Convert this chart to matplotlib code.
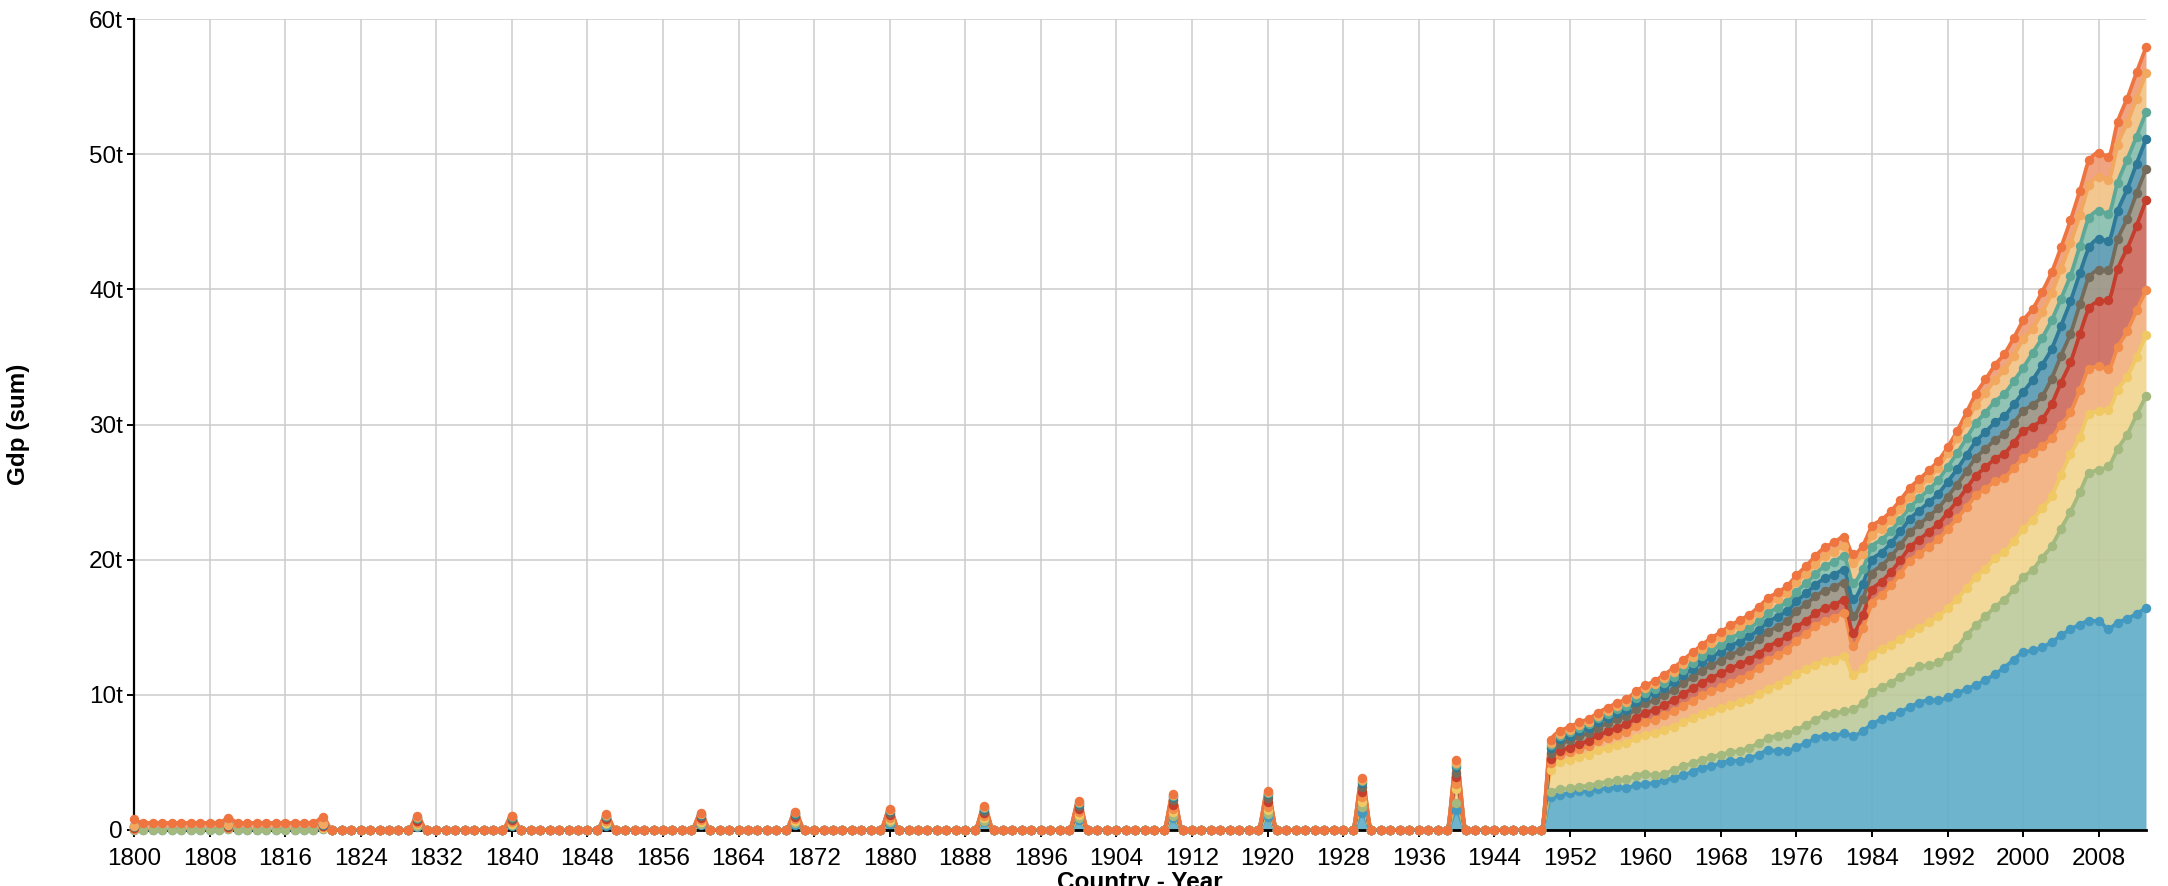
import numpy as np
import matplotlib
matplotlib.use("Agg")
import matplotlib.pyplot as plt
from matplotlib.ticker import FixedLocator, FuncFormatter

plt.rcParams['font.family'] = ['Liberation Sans', 'DejaVu Sans']

# ---------------- data ----------------
first_year, last_year = 1800, 2013
modern_start = 1950

# decade years before 1950 that carry data
decade_years = [1800, 1810, 1820, 1830, 1840, 1850, 1860, 1870,
                1880, 1890, 1900, 1910, 1920, 1930, 1940]

# the top series has values in every year 1801-1819 (non-decade years)
top_1801_1819 = [0.52, 0.52, 0.52, 0.52, 0.52, 0.52, 0.52, 0.52, 0.52,
                 0.52, 0.52, 0.52, 0.52, 0.52, 0.52, 0.52, 0.52, 0.52]

# values (trillions) in the decade years, per series (bottom -> top)
blue_early = [0.02, 0.06, 0.08, 0.25, 0.28, 0.32, 0.36, 0.40, 0.48, 0.56, 0.72, 0.88, 0.99, 1.28, 1.48]
green_early = [0.00, 0.02, 0.03, 0.08, 0.08, 0.09, 0.10, 0.10, 0.11, 0.12, 0.14, 0.16, 0.16, 0.45, 0.54]
yellow_early = [0.04, 0.05, 0.05, 0.12, 0.12, 0.13, 0.14, 0.15, 0.17, 0.19, 0.23, 0.28, 0.30, 0.37, 0.98]
orange_early = [0.04, 0.05, 0.05, 0.10, 0.11, 0.12, 0.13, 0.14, 0.16, 0.18, 0.21, 0.26, 0.28, 0.37, 0.40]
red_early = [0.05, 0.06, 0.06, 0.12, 0.12, 0.13, 0.14, 0.15, 0.17, 0.19, 0.23, 0.29, 0.31, 0.37, 0.54]
grey_early = [0.08, 0.08, 0.08, 0.13, 0.13, 0.14, 0.15, 0.16, 0.18, 0.20, 0.23, 0.32, 0.34, 0.36, 0.30]
darkblue_early = [0.03, 0.04, 0.05, 0.08, 0.09, 0.10, 0.11, 0.12, 0.14, 0.15, 0.18, 0.24, 0.26, 0.25, 0.44]
teal_early = [0.01, 0.01, 0.02, 0.04, 0.04, 0.04, 0.04, 0.05, 0.05, 0.06, 0.07, 0.09, 0.10, 0.14, 0.15]
lightorange_early = [0.01, 0.01, 0.01, 0.04, 0.04, 0.04, 0.04, 0.04, 0.05, 0.05, 0.07, 0.09, 0.09, 0.13, 0.16]
top_early = [0.52, 0.52, 0.52, 0.04, 0.04, 0.04, 0.04, 0.04, 0.04, 0.05, 0.07, 0.09, 0.09, 0.13, 0.16]

# yearly values 1950-2013 per series
blue_modern = [2.42, 2.62, 2.72, 2.85, 2.84, 3.02, 3.08, 3.15, 3.12, 3.33,
               3.41, 3.48, 3.68, 3.84, 4.05, 4.31, 4.60, 4.72, 4.95, 5.11,
               5.12, 5.30, 5.58, 5.90, 5.87, 5.85, 6.15, 6.42, 6.78, 6.99,
               6.97, 7.15, 6.99, 7.31, 7.85, 8.18, 8.45, 8.74, 9.10, 9.42,
               9.60, 9.59, 9.84, 10.10, 10.45, 10.72, 11.10, 11.53, 12.02, 12.60,
               13.15, 13.28, 13.52, 13.90, 14.40, 14.85, 15.20, 15.48, 15.46, 14.90,
               15.35, 15.62, 16.00, 16.42]
green_modern = [0.42, 0.38, 0.37, 0.35, 0.44, 0.42, 0.50, 0.53, 0.62, 0.70,
                0.74, 0.57, 0.49, 0.61, 0.67, 0.63, 0.60, 0.68, 0.63, 0.65,
                0.73, 0.80, 0.84, 0.90, 1.11, 1.27, 1.25, 1.36, 1.37, 1.51,
                1.67, 1.62, 1.95, 2.07, 2.35, 2.37, 2.45, 2.61, 2.63, 2.68,
                2.60, 2.81, 3.01, 3.40, 3.95, 4.43, 4.70, 4.97, 5.03, 5.20,
                5.55, 5.97, 6.63, 7.10, 7.90, 8.70, 9.80, 10.92, 11.19, 12.00,
                12.85, 13.63, 14.70, 15.68]
yellow_modern = [1.60, 2.00, 2.11, 2.22, 2.30, 2.46, 2.52, 2.60, 2.71, 2.75,
                 2.87, 3.10, 3.23, 3.20, 3.26, 3.33, 3.38, 3.42, 3.42, 3.49,
                 3.60, 3.60, 3.63, 3.65, 3.77, 3.98, 4.15, 4.12, 4.07, 3.97,
                 3.96, 4.07, 2.56, 2.60, 2.76, 2.83, 2.80, 2.77, 2.84, 2.84,
                 3.16, 3.40, 3.55, 3.60, 3.48, 3.56, 3.52, 3.60, 3.50, 3.58,
                 3.55, 3.70, 3.65, 3.70, 4.00, 4.25, 4.10, 4.40, 4.35, 4.20,
                 4.35, 4.30, 4.30, 4.50]
orange_modern = [0.50, 0.52, 0.55, 0.58, 0.62, 0.66, 0.72, 0.78, 0.82, 0.90,
                 0.98, 1.02, 1.08, 1.15, 1.22, 1.30, 1.38, 1.45, 1.55, 1.65,
                 1.72, 1.80, 1.95, 2.10, 2.18, 2.25, 2.45, 2.60, 2.85, 3.00,
                 3.10, 3.20, 2.10, 2.95, 3.80, 4.00, 4.40, 4.85, 5.35, 5.50,
                 5.60, 5.70, 5.85, 5.95, 6.00, 6.05, 5.90, 5.70, 5.50, 5.40,
                 5.25, 4.95, 4.60, 4.30, 3.70, 3.10, 3.45, 3.30, 3.30, 3.00,
                 3.15, 3.35, 3.44, 3.33]
red_modern = [0.29, 0.32, 0.35, 0.38, 0.40, 0.44, 0.48, 0.52, 0.56, 0.62,
              0.67, 0.72, 0.76, 0.80, 0.86, 0.90, 0.95, 1.00, 1.03, 1.07,
              1.08, 1.10, 1.05, 1.02, 1.00, 0.98, 1.00, 0.98, 0.96, 0.95,
              0.95, 0.95, 1.00, 0.97, 0.98, 0.99, 1.00, 1.00, 1.00, 1.05,
              1.10, 1.14, 1.22, 1.27, 1.40, 1.46, 1.60, 1.66, 1.80, 1.86,
              2.00, 1.95, 2.00, 2.50, 3.10, 3.70, 4.15, 4.50, 4.80, 5.10,
              5.80, 6.10, 6.26, 6.67]
grey_modern = [0.50, 0.52, 0.53, 0.55, 0.56, 0.58, 0.60, 0.62, 0.63, 0.66,
               0.69, 0.72, 0.75, 0.78, 0.82, 0.86, 0.89, 0.92, 0.95, 0.98,
               1.00, 1.02, 1.05, 1.10, 1.12, 1.14, 1.19, 1.22, 1.26, 1.28,
               1.30, 1.30, 1.23, 1.20, 1.22, 1.18, 1.15, 1.12, 1.10, 1.12,
               1.15, 1.17, 1.20, 1.24, 1.28, 1.33, 1.36, 1.40, 1.44, 1.47,
               1.50, 1.60, 1.70, 1.90, 2.00, 2.10, 2.20, 2.30, 2.30, 2.20,
               2.20, 2.20, 2.40, 2.30]
darkblue_modern = [0.32, 0.34, 0.35, 0.37, 0.38, 0.40, 0.42, 0.44, 0.45, 0.48,
                   0.50, 0.52, 0.54, 0.56, 0.58, 0.60, 0.62, 0.64, 0.66, 0.68,
                   0.69, 0.70, 0.72, 0.74, 0.74, 0.74, 0.75, 0.80, 0.86, 0.92,
                   0.95, 0.96, 1.24, 1.10, 1.00, 0.98, 0.98, 1.00, 1.00, 1.02,
                   1.04, 1.06, 1.10, 1.13, 1.17, 1.21, 1.25, 1.29, 1.33, 1.37,
                   1.40, 1.85, 2.30, 2.20, 2.20, 2.40, 2.30, 2.20, 2.30, 2.20,
                   2.10, 2.20, 2.20, 2.20]
teal_modern = [0.25, 0.25, 0.26, 0.26, 0.27, 0.27, 0.28, 0.28, 0.28, 0.29,
               0.29, 0.31, 0.34, 0.37, 0.40, 0.43, 0.46, 0.50, 0.53, 0.56,
               0.58, 0.60, 0.62, 0.65, 0.66, 0.68, 0.70, 0.76, 0.82, 0.90,
               0.95, 1.00, 1.23, 1.10, 1.00, 0.95, 0.90, 0.88, 0.85, 0.90,
               0.95, 1.02, 1.10, 1.18, 1.26, 1.35, 1.45, 1.55, 1.65, 1.72,
               1.80, 2.00, 2.00, 2.10, 2.00, 1.90, 2.00, 2.20, 2.10, 2.00,
               2.10, 2.20, 2.00, 2.00]
lightorange_modern = [0.17, 0.18, 0.19, 0.20, 0.21, 0.22, 0.24, 0.26, 0.28, 0.30,
                      0.33, 0.35, 0.37, 0.40, 0.43, 0.46, 0.49, 0.52, 0.55, 0.58,
                      0.59, 0.60, 0.62, 0.65, 0.66, 0.68, 0.70, 0.71, 0.72, 0.74,
                      0.75, 0.75, 1.48, 1.10, 0.85, 0.80, 0.78, 0.76, 0.75, 0.80,
                      0.85, 0.92, 1.00, 1.10, 1.20, 1.32, 1.45, 1.60, 1.75, 1.90,
                      2.10, 1.80, 1.90, 2.00, 2.20, 2.40, 2.30, 2.40, 2.50, 2.50,
                      2.80, 2.70, 2.80, 2.90]
top_modern = [0.20, 0.20, 0.20, 0.21, 0.21, 0.21, 0.22, 0.22, 0.22, 0.22,
              0.22, 0.24, 0.26, 0.28, 0.30, 0.32, 0.34, 0.36, 0.37, 0.38,
              0.40, 0.42, 0.44, 0.46, 0.47, 0.48, 0.50, 0.55, 0.60, 0.65,
              0.68, 0.70, 0.62, 0.63, 0.65, 0.66, 0.68, 0.69, 0.70, 0.62,
              0.55, 0.50, 0.45, 0.55, 0.70, 0.85, 1.00, 1.10, 1.20, 1.30,
              1.40, 1.45, 1.50, 1.55, 1.60, 1.70, 1.80, 1.85, 1.80, 1.70,
              1.70, 1.80, 1.95, 1.90]

early_series = [blue_early, green_early, yellow_early, orange_early, red_early,
                grey_early, darkblue_early, teal_early, lightorange_early, top_early]
modern_series = [blue_modern, green_modern, yellow_modern, orange_modern, red_modern,
                 grey_modern, darkblue_modern, teal_modern, lightorange_modern, top_modern]

line_colors = ['#4499c0', '#a3b97e', '#f0c965', '#f28c4b', '#c43d2d',
               '#756b5b', '#2e7898', '#5ea897', '#f2a85e', '#ee7440']
fill_colors = ['#62aec8', '#bdca9b', '#f2d690', '#f2b07f', '#cc6a5e',
               '#9b9586', '#5a9ab2', '#88bfaf', '#f3c387', '#f09c77']

# ---------------- assemble ----------------
years = np.arange(first_year, last_year + 1)
n_series = len(modern_series)
vals = np.zeros((n_series, len(years)))
dec_idx = [y - first_year for y in decade_years]
between_idx = [y - first_year for y in range(1801, 1820) if y % 10 != 0]
for i in range(n_series):
    vals[i, dec_idx] = early_series[i]
    vals[i, modern_start - first_year:] = modern_series[i]
    if 2 <= i <= 8:
        vals[i, between_idx] = np.nan   # no data for these series
vals[n_series - 1, between_idx] = top_1801_1819

v0 = np.nan_to_num(vals)
cum = np.cumsum(v0, axis=0)
lower = cum - v0


def monotone_x(x, y, n=14):
    """d3.curveMonotoneX-style rendering of a polyline."""
    x = np.asarray(x, float)
    y = np.asarray(y, float)
    h = np.diff(x)
    s = np.diff(y) / h
    m = np.zeros_like(y)
    for k in range(1, len(y) - 1):
        s0, s1 = s[k - 1], s[k]
        h0, h1 = h[k - 1], h[k]
        p = (s0 * h1 + s1 * h0) / (h0 + h1)
        sg0 = -1.0 if s0 < 0 else 1.0
        sg1 = -1.0 if s1 < 0 else 1.0
        m[k] = (sg0 + sg1) * min(abs(s0), abs(s1), 0.5 * abs(p))
    m[0] = (3 * s[0] - m[1]) / 2
    m[-1] = (3 * s[-1] - m[-2]) / 2
    t = np.linspace(0, 1, n, endpoint=False)
    h00 = 2 * t**3 - 3 * t**2 + 1
    h10 = t**3 - 2 * t**2 + t
    h01 = -2 * t**3 + 3 * t**2
    h11 = t**3 - t**2
    xs, ys = [], []
    for k in range(len(h)):
        xs.append(x[k] + t * h[k])
        ys.append(h00 * y[k] + h10 * h[k] * m[k] + h01 * y[k + 1] + h11 * h[k] * m[k + 1])
    xs.append([x[-1]])
    ys.append([y[-1]])
    return np.concatenate(xs), np.concatenate(ys)


# ---------------- figure ----------------
W, H, DPI = 2168, 886, 100
fig = plt.figure(figsize=(W / DPI, H / DPI), dpi=DPI)
L, R, T, B = 134, 2146, 19, 830
ax = fig.add_axes([L / W, 1 - B / H, (R - L) / W, (B - T) / H])

for i in range(n_series):
    xs, ytop = monotone_x(years, cum[i])
    _, ybot = monotone_x(years, lower[i])
    ax.fill_between(xs, ybot, ytop, color=fill_colors[i], alpha=0.92, lw=0, zorder=2)
for i in range(n_series):
    xs, ytop = monotone_x(years, cum[i])
    ax.plot(xs, ytop, color=line_colors[i], lw=2.7, zorder=3, solid_capstyle='round')
for i in range(n_series):
    ym = np.where(np.isnan(vals[i]), np.nan, cum[i])
    ax.plot(years, ym, 'o', ms=6.8, color=line_colors[i], mec='none', zorder=4, clip_on=False)

ax.set_xlim(first_year, last_year)
ax.set_ylim(0, 60)

xticks = list(range(1800, 2009, 8))
yticks = [0, 10, 20, 30, 40, 50, 60]
ax.xaxis.set_major_locator(FixedLocator(xticks))
ax.yaxis.set_major_locator(FixedLocator(yticks))
ax.yaxis.set_major_formatter(FuncFormatter(lambda v, p: "0" if v == 0 else f"{int(v)}t"))

ax.grid(True, color='#cccccc', lw=1.1, zorder=0)
ax.set_axisbelow(True)
for side in ['top', 'right']:
    ax.spines[side].set_visible(False)
ax.spines['left'].set_linewidth(1.6)
ax.spines['bottom'].set_linewidth(2.0)
ax.spines['left'].set_zorder(1)
ax.tick_params(axis='both', direction='out', length=5, width=1.4, labelsize=17.5,
               color='black', labelcolor='black')
ax.tick_params(axis='x', pad=8)
ax.tick_params(axis='y', pad=3)

fig.text(19 / W, 1 - 424 / H, "Gdp (sum)", rotation=90, ha='center', va='center',
         fontsize=17.5, fontweight='bold')
fig.text((L + R) / 2 / W, 1 - 871 / H, "Country - Year", ha='center', va='top',
         fontsize=17.5, fontweight='bold')

fig.savefig("out.png", dpi=DPI)
